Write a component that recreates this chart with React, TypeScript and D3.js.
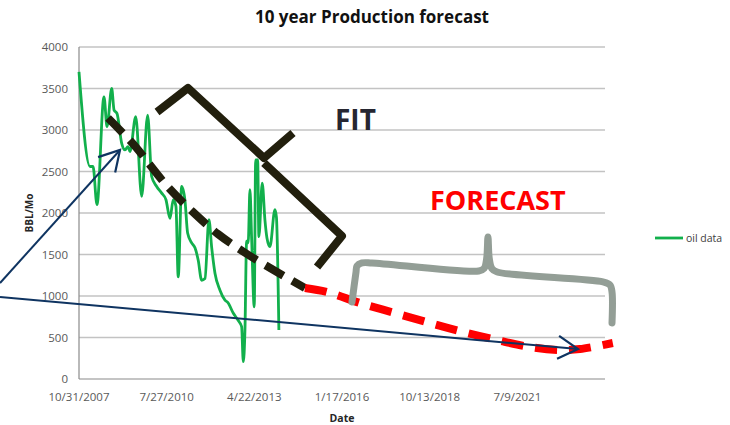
import React from "react";
import * as d3 from "d3";

// ---- data (days after 10/31/2007, BBL/Mo) ----
const startDate = "10/31/2007";
const oilDays = [0,125,160,205,285,320,373,400,433,487,525,559,582,647,715,783,829,886,943,992,1038,1075,1106,1132,1171,1209,1239,1285,1323,1360,1399,1437,1482,1513,1551,1608,1665,1699,1759,1813,1855,1874,1893,1912,1930,1950,1969,1999,2015,2038,2052,2090,2121,2144,2178,2235,2252,2280];
const oilValues = [3700,2560,2560,2100,3400,3040,3500,3240,3200,2840,2760,2800,2740,3160,2200,3180,2440,2320,2240,2160,1935,2160,2080,1230,2320,2150,1760,1640,1580,1430,1190,1210,1920,1590,1275,1070,950,920,795,710,630,210,590,1660,1640,2280,1700,870,2640,2640,1715,2360,1915,1700,1595,2040,1950,590];

const fitDays = [331,639,810,1015,1300,1585,1916,2258,2577];
const fitValues = [3145,2807,2578,2313,2012,1747,1506,1289,1096];

const forecastDays = [2577,2828,3204,3603,4002,4379,4766,5143,5485,5713,6089];
const forecastValues = [1096,1048,916,795,675,566,470,386,349,361,434];

// annotation shapes in data space
const fitBracketA = { days: [890,1243,2110,2441], values: [3217,3506,2663,2964] };
const fitBracketB = { days: [2110,3000,2715], values: [2602,1723,1349] };
const forecastBrace = {
  days: [3114,3160,3171,3228,3342,4560,4620,4650,4665,4680,4710,4770,5977,6057,6080,6080],
  values: [928,1289,1361,1398,1398,1301,1330,1450,1710,1450,1330,1289,1169,1133,1048,675],
};
const arrow1 = { days: [-901,468], values: [1157,2759] };
const arrow2 = { days: [-901,5692], values: [988,361] };

const xTickLabels = ["10/31/2007","7/27/2010","4/22/2013","1/17/2016","10/13/2018","7/9/2021"];
const yTicks = [0,500,1000,1500,2000,2500,3000,3500,4000];
const axisSpanDays = 6000;

const W = 730, H = 425;
const FONT = "'Open Sans', 'DejaVu Sans', sans-serif";

export default function App() {
  const parse = d3.timeParse("%m/%d/%Y");
  const t0 = parse(startDate) as Date;
  const toDate = (d: number) => d3.timeDay.offset(t0, Math.round(d));
  const x = d3.scaleTime().domain([t0, toDate(axisSpanDays)]).range([79, 605]);
  const y = d3.scaleLinear().domain([0, 4000]).range([379, 47]);

  const pts = (days: number[], vals: number[]) => days.map((d, i) => [x(toDate(d)), y(vals[i])] as [number, number]);
  const lin = d3.line();
  const mono = d3.line().curve(d3.curveMonotoneX);
  const smooth = d3.line().curve(d3.curveCatmullRom.alpha(0.5));

  const oilPath = mono(pts(oilDays, oilValues)) as string;
  const fitPath = smooth(pts(fitDays, fitValues)) as string;
  const fcPath = smooth(pts(forecastDays, forecastValues)) as string;
  const bracePath = smooth(pts(forecastBrace.days, forecastBrace.values)) as string;

  const ink = "#221f0d";
  const navy = "#0f3461";
  const green = "#12b04c";

  return (
    <svg width={W} height={H} style={{ position: "absolute", left: 0, top: 0, background: "#fff" }} fontFamily={FONT}>
      <defs>
        <marker id="arr" markerUnits="userSpaceOnUse" markerWidth="24" markerHeight="26" viewBox="0 0 24 26" refX="21" refY="13" orient="auto">
          <path d="M1,1.5 L21,13 L1,24.5" fill="none" stroke={navy} strokeWidth="2.2" />
        </marker>
      </defs>
      {/* title */}
      <text x={372} y={23} textAnchor="middle" fontSize={17} fontWeight="bold" fill="#111">10 year Production forecast</text>

      {/* grid */}
      {yTicks.filter(v => v > 0).map(v => (
        <line key={v} x1={79} x2={605} y1={y(v)} y2={y(v)} stroke="#c3c3c3" strokeWidth={1.4} />
      ))}
      <line x1={79} x2={79} y1={y(4000)} y2={y(0)} stroke="#8a8a8a" strokeWidth={1.2} />
      <line x1={79} x2={605} y1={y(0)} y2={y(0)} stroke="#8a8a8a" strokeWidth={1.2} />

      {yTicks.map(v => (
        <text key={v} x={68} y={y(v)} dy="0.35em" textAnchor="end" fontSize={11.5} fill="#595959">{v}</text>
      ))}
      {xTickLabels.map(l => (
        <text key={l} x={x(parse(l) as Date)} y={401} textAnchor="middle" fontSize={11.5} fill="#595959">{l}</text>
      ))}
      <text x={342} y={422} textAnchor="middle" fontSize={10.5} fontWeight="bold" fill="#262626">Date</text>
      <text transform="translate(33,213) rotate(-90)" textAnchor="middle" fontSize={10} fontWeight="bold" fill="#262626">BBL/Mo</text>

      {/* data */}
      <path d={oilPath} fill="none" stroke={green} strokeWidth={2.8} strokeLinejoin="round" />

      {/* fit & forecast */}
      <path d={fitPath} fill="none" stroke={ink} strokeWidth={8} strokeDasharray="21 10" />
      <path d={fcPath} fill="none" stroke="#ff0000" strokeWidth={8} strokeDasharray="22 12" />

      {/* brackets */}
      <path d={lin(pts(fitBracketA.days, fitBracketA.values)) as string} fill="none" stroke={ink} strokeWidth={8} strokeLinejoin="round" />
      <path d={lin(pts(fitBracketB.days, fitBracketB.values)) as string} fill="none" stroke={ink} strokeWidth={8} strokeLinejoin="round" />
      <path d={bracePath} fill="none" stroke="#939e96" strokeWidth={7} strokeLinejoin="round" strokeLinecap="round" />

      {/* arrows */}
      <path d={lin(pts(arrow1.days, arrow1.values)) as string} fill="none" stroke={navy} strokeWidth={2} markerEnd="url(#arr)" />
      <path d={lin(pts(arrow2.days, arrow2.values)) as string} fill="none" stroke={navy} strokeWidth={2} markerEnd="url(#arr)" />

      {/* labels */}
      <text x={335} y={130} fontSize={28} fontWeight="bold" fill="#262631">FIT</text>
      <text x={430} y={210} fontSize={27} fontWeight="bold" fill="#ff0000">FORECAST</text>

      {/* legend */}
      <line x1={655} x2={683} y1={238} y2={238} stroke={green} strokeWidth={2.8} />
      <text x={686} y={238} dy="0.35em" fontSize={10.5} fill="#404040">oil data</text>
    </svg>
  );
}
